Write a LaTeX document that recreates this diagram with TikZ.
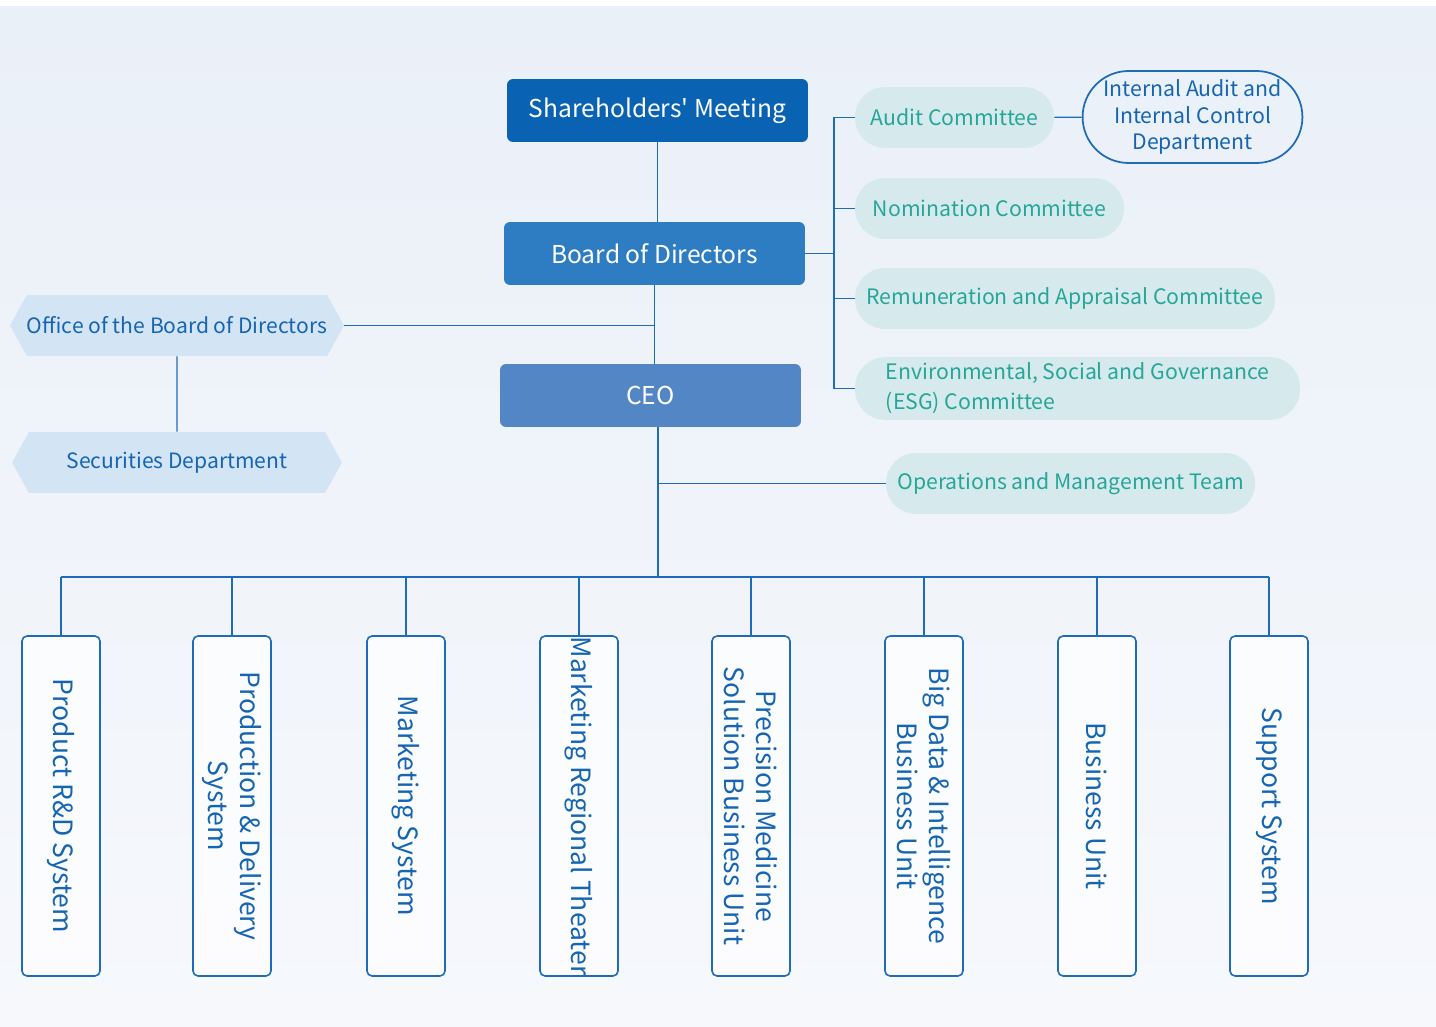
\documentclass[tikz,border=0pt]{standalone}
\usepackage{fontspec}
\setmainfont{Noto Sans CJK SC}
\newfontfamily\quotefont{Noto Sans CJK SC}
\usetikzlibrary{shapes.symbols,shapes.misc}

\definecolor{bgtop}{RGB}{234,240,248}
\definecolor{bgbot}{RGB}{246,248,252}
\definecolor{smfill}{RGB}{10,99,178}
\definecolor{bodfill}{RGB}{46,124,194}
\definecolor{ceofill}{RGB}{82,134,196}
\definecolor{linkcol}{RGB}{30,108,184}
\definecolor{officefill}{RGB}{211,228,244}
\definecolor{bluetext}{RGB}{21,101,178}
\definecolor{comfill}{RGB}{214,234,237}
\definecolor{comtext}{RGB}{38,166,152}

\tikzset{
  topbox/.style={rectangle, rounded corners=0.12cm, minimum width=6.02cm, minimum height=1.26cm, text=white, font=\fontsize{14}{17}\selectfont},
  officebox/.style={signal, signal to=west and east, signal pointer angle=122, fill=officefill, text=bluetext, inner xsep=0pt, minimum width=6.6cm, minimum height=1.22cm, font=\fontsize{12}{15}\selectfont},
  committee/.style={rectangle, rounded corners=0.6cm, fill=comfill, text=comtext, minimum height=1.22cm, font=\fontsize{12.1}{15}\selectfont},
  unitbox/.style={rectangle, rounded corners=0.1cm, draw=linkcol, line width=0.9pt, fill=white, fill opacity=0.7, text opacity=1, inner xsep=0pt, minimum width=6.8cm, minimum height=1.56cm, rotate=-90, text=bluetext, align=center, font=\fontsize{15.1}{18.2}\selectfont},
  link/.style={draw=linkcol, line width=0.8pt}
}

\begin{document}
\begin{tikzpicture}[x=0.02cm, y=-0.02cm]
\useasboundingbox (0,0) rectangle (1436,1027);
\shade[top color=bgtop, bottom color=bgbot] (0,7) rectangle (1436,1027);

\node[topbox, fill=smfill] (sm) at (657.5,110.5) {Shareholders{\quotefont'} Meeting};
\node[topbox, fill=bodfill] (bod) at (654.5,253.5) {Board of Directors};
\node[topbox, fill=ceofill] (ceo) at (650.5,395.5) {CEO};

\node[officebox] (office) at (177,325.5) {Office of the Board of Directors};
\node[officebox] (sec) at (177,462.5) {Securities Department};

\node[committee, minimum width=3.98cm] (audit) at (954.5,117.5) {Audit Committee};
\node[rounded rectangle, draw=linkcol, line width=1pt, text=bluetext, align=center, minimum width=4.3cm, minimum height=1.84cm, inner sep=1pt, font=\fontsize{12.1}{15}\selectfont] (iad) at (1192.5,117) {Internal Audit and\\Internal Control\\Department};
\node[committee, minimum width=5.38cm] (nom) at (989.5,208.5) {Nomination Committee};
\node[committee, minimum width=8.4cm] (rem) at (1065,298.5) {Remuneration and Appraisal Committee};
\node[committee, minimum width=8.9cm, align=left, font=\fontsize{12.1}{17}\selectfont] (esg) at (1077.5,388.5) {Environmental, Social and Governance\\(ESG) Committee};
\node[committee, minimum width=7.38cm] (ops) at (1070.5,483.5) {Operations and Management Team};

\node[unitbox] (rd) at (61,806) {Product R\&D System};
\node[unitbox] (pd) at (232,806) {Production \& Delivery\\System};
\node[unitbox] (mk) at (406,806) {Marketing System};
\node[unitbox] (mrt) at (579,806) {Marketing Regional Theater};
\node[unitbox] (pm) at (751,806) {Precision Medicine\\Solution Business Unit};
\node[unitbox] (bd) at (924,806) {Big Data \& Intelligence\\Business Unit};
\node[unitbox] (bu) at (1097,806) {Business Unit};
\node[unitbox] (sup) at (1269,806) {Support System};

\coordinate (cbar) at (834,253.5);
\coordinate (bus) at (658,577);

\path[link] (sm.south) -- (sm.south |- bod.north);
\path[link] (bod.south) -- (bod.south |- ceo.north);
\path[link] (office.east) -- (office.east -| bod.south);
\path[link] (office) -- (sec);
\path[link] (bod.east) -- (cbar);
\path[link] (cbar |- audit) -- (cbar |- esg);
\path[link] (cbar |- audit) -- (audit.west);
\path[link] (cbar |- nom) -- (nom.west);
\path[link] (cbar |- rem) -- (rem.west);
\path[link] (cbar |- esg) -- (esg.west);
\path[link] (audit) -- (iad);
\path[link] (bus |- ceo.south) -- (bus);
\path[link] (bus |- ops) -- (ops.west);
\path[link] (rd.west |- bus) -- (sup.west |- bus);
\path[link] (rd.west |- bus) -- (rd.west);
\path[link] (pd.west |- bus) -- (pd.west);
\path[link] (mk.west |- bus) -- (mk.west);
\path[link] (mrt.west |- bus) -- (mrt.west);
\path[link] (pm.west |- bus) -- (pm.west);
\path[link] (bd.west |- bus) -- (bd.west);
\path[link] (bu.west |- bus) -- (bu.west);
\path[link] (sup.west |- bus) -- (sup.west);
\end{tikzpicture}
\end{document}
